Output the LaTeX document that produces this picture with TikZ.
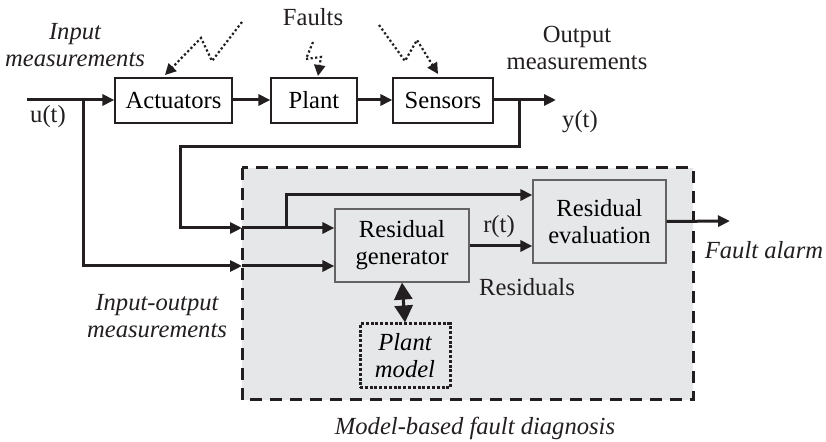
\documentclass[tikz,border=0pt]{standalone}
\usepackage{fontspec}
\setmainfont{Liberation Serif}
\usetikzlibrary{arrows.meta}
\definecolor{bgray}{RGB}{230,231,232}
\definecolor{ink}{RGB}{35,31,32}
\begin{document}
\begin{tikzpicture}[x=0.5pt,y=-0.5pt,
  font=\fontsize{12.3}{13.5}\selectfont,
  box/.style={draw=ink,line width=0.6pt,inner sep=0pt,align=center},
  conn/.style={draw=ink,line width=1.5pt,-{Triangle[length=6pt,width=5.5pt]}},
  fault/.style={draw=ink,line width=1.1pt,dash pattern=on 1.1pt off 1.2pt,-{Triangle[length=5.5pt,width=5.5pt]}},
  lbl/.style={inner sep=0pt,align=center,text=ink},
  ilbl/.style={lbl,font=\fontsize{12.3}{13.5}\selectfont\itshape}]
\useasboundingbox (0,0) rectangle (826,442);
% diagnosis region
\fill[bgray] (242,168) rectangle (693,400);
\draw[ink,line width=1.5pt,dash pattern=on 6pt off 4pt] (242,168) rectangle (693,400);
% blocks
\node[box,minimum width=58.5pt,minimum height=22.5pt] (act) at (173.5,100.5) {Actuators};
\node[box,minimum width=43pt,minimum height=22.5pt] (plant) at (314,100.5) {Plant};
\node[box,minimum width=50pt,minimum height=22.5pt] (sens) at (443,100.5) {Sensors};
\node[box,fill=bgray,draw=ink!70,minimum width=67pt,minimum height=36.5pt] (rg) at (402,245.5) {Residual\\generator};
\node[box,fill=bgray,draw=ink!70,minimum width=66.5pt,minimum height=41.5pt] (re) at (599.5,221.5) {Residual\\evaluation};
\node[box,draw=ink,line width=1.5pt,dash pattern=on 1.5pt off 0.9pt,minimum width=45pt,minimum height=32pt,font=\fontsize{12.3}{13.5}\selectfont\itshape] (pm) at (405,356) {Plant\\model};
% coordinates
\coordinate (in) at (27,100);
\coordinate (b1) at (83,100);
\coordinate (yout) at (556,100);
\coordinate (b2) at (519,100);
\coordinate (c1) at (180,147);
\coordinate (e1) at (242,228);
\coordinate (e2) at (242,266);
\coordinate (b3) at (286,228);
\coordinate (fa) at (730,221);
% main chain
\draw[conn] (in) -- (act.west |- in);
\draw[conn] (act.east |- in) -- (plant.west |- in);
\draw[conn] (plant.east |- in) -- (sens.west |- in);
\draw[conn] (sens.east |- in) -- (yout);
% input branch
\draw[conn] (b1) |- (e2);
\draw[conn] (e2) -- (rg.west |- e2);
% output branch
\draw[conn] (b2) |- (c1) |- (e1);
\draw[conn] (e1) -- (rg.west |- e1);
\draw[conn] (b3) |- (re.west |- 0,195);
\draw[conn] (rg.east |- 0,246) -- (re.west |- 0,246);
\draw[conn] (re.east) -- (fa);
% model link
\draw[draw=ink,line width=1.5pt,{Triangle[length=8.5pt,width=9pt]}-{Triangle[length=8.5pt,width=9pt]}] (rg.south) -- (pm.north);
% faults
\draw[fault] (242,22) -- (212,61) -- (201,38) -- (165,75);
\draw[fault] (313,42) -- (306,59) -- (321,57) -- (318,76);
\draw[fault] (379,25) -- (405,61) -- (417,40) -- (438,74);
% labels
\node[ilbl] (inm) at (75,45) {Input\\measurements};
\node[lbl] (ut) at (48,117) {u(t)};
\node[lbl] (flt) at (313,17) {Faults};
\node[lbl] (outm) at (577,48) {Output\\measurements};
\node[lbl] (yt) at (580,122) {y(t)};
\node[ilbl] (iom) at (157,316) {Input-output\\measurements};
\node[lbl] (rt) at (499,227) {r(t)};
\node[lbl] (res) at (527,287) {Residuals};
\node[ilbl] (fal) at (764,250) {Fault alarm};
\node[ilbl] (mbfd) at (475,428) {Model-based fault diagnosis};
\end{tikzpicture}
\end{document}
